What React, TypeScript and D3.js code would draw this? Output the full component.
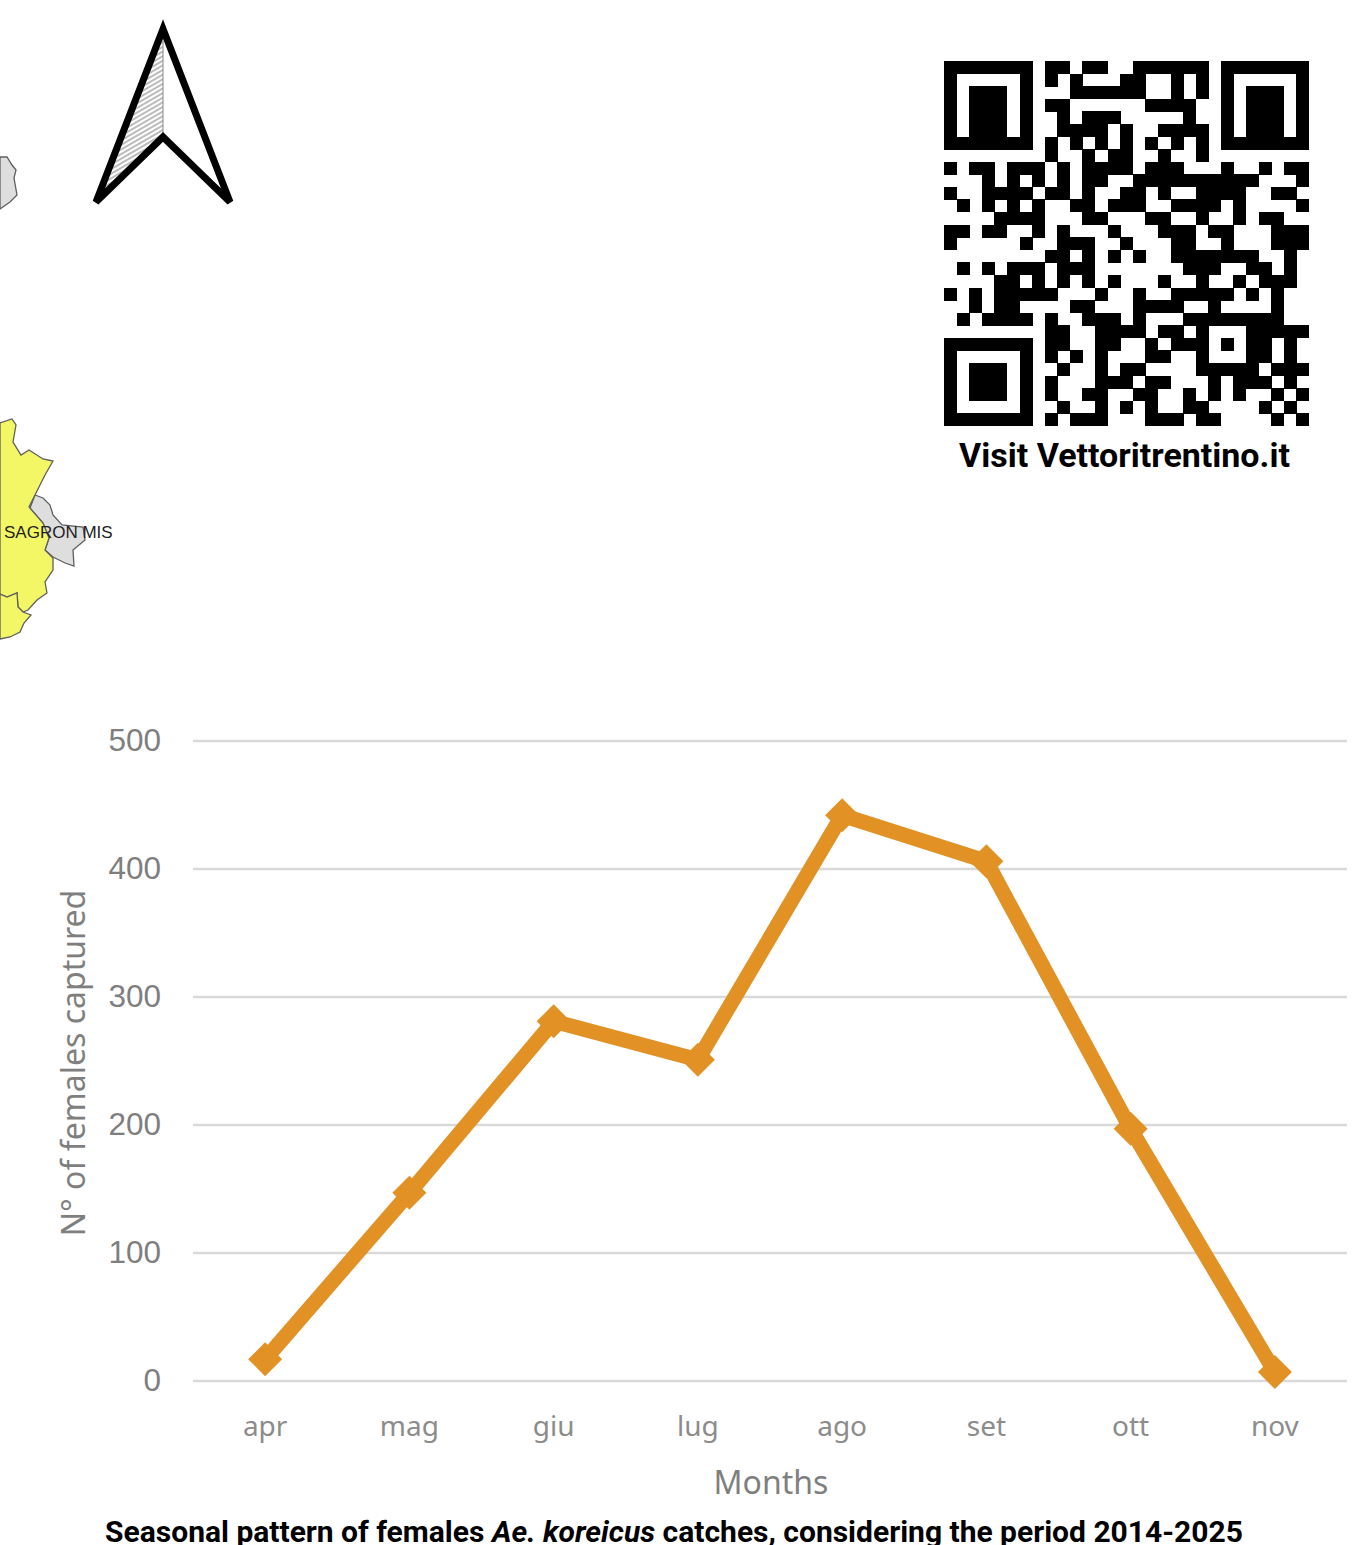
import React, { useEffect, useRef } from 'react'
import * as d3 from 'd3'

const months = ['apr', 'mag', 'giu', 'lug', 'ago', 'set', 'ott', 'nov']
const femalesCaptured = [17, 147, 281, 251, 442, 406, 197, 7]
const yTicks = [0, 100, 200, 300, 400, 500]

// QR modules, one string per row
const qrRows = [
  '11111110110110011111101111111',
  '10000010101000110010101000001',
  '10111010001111110010101011101',
  '10111010110000001111001011101',
  '10111010010111000001001011101',
  '10111010011110100111101011101',
  '11111110101010101010101111111',
  '00000000100101100100100000000',
  '10110111010111101110001001011',
  '00010101010110011111111110001',
  '10011110110100110100111100110',
  '01010101001101110011110100001',
  '00001111000110001100100101100',
  '11011001010001000111011000111',
  '10000010011100100011001000111',
  '00000000110101010011111110010',
  '01010111011100000001110011010',
  '00001101010101000100100101110',
  '10101111100010010011111010100',
  '00101100001100011110010000100',
  '01011110100111010001111111100',
  '00000000110011110110100011111',
  '11111110110011001011101011010',
  '10000010101010001100100011010',
  '10111010010010110000111110111',
  '10111010100011101100010111010',
  '10111010100110011001010100101',
  '10000010010010101001100001010',
  '11111110101110001110110000101'
]

// bits of the municipality map left in the corner
const mapGrey: [number, number][][] = [
  [[0, 157], [7, 157], [12, 165], [16, 170], [14, 178], [17, 195], [10, 202], [0, 209]],
  [[35, 495], [43, 498], [50, 505], [53, 515], [62, 525], [83, 527], [85, 540], [73, 550], [74, 566], [65, 563], [53, 557], [45, 550], [49, 538], [43, 523], [30, 508]]
]
const mapYellow: [number, number][][] = [
  [[0, 423], [12, 419], [16, 425], [13, 442], [21, 455], [29, 450], [43, 459], [53, 461], [45, 475], [35, 495], [29, 507], [43, 523], [49, 538], [45, 550], [53, 558], [53, 570], [45, 582], [47, 593], [37, 600], [28, 610], [23, 612], [18, 607], [17, 593], [7, 597], [0, 594]],
  [[0, 594], [7, 597], [17, 593], [18, 607], [23, 612], [31, 615], [24, 623], [20, 632], [10, 637], [0, 639]]
]
const arrowOutline: [number, number][] = [[163, 29], [96, 202], [163, 137], [230, 202]]
const arrowHatch: [number, number][] = [[163, 29], [96, 202], [163, 137]]

export default function App() {
  const svgRef = useRef<SVGSVGElement>(null)

  useEffect(() => {
    if (!svgRef.current) return
    const svg = d3.select(svgRef.current)
    svg.selectAll('*').remove()

    const polygon = d3.line().curve(d3.curveLinearClosed)

    // map fragments
    const map = svg.append('g').attr('stroke', '#5f5f5f').attr('stroke-width', 1.3)
    map.selectAll('path.grey').data(mapGrey).join('path')
      .attr('class', 'grey').attr('d', d => polygon(d)).attr('fill', '#dedede')
    map.selectAll('path.yellow').data(mapYellow).join('path')
      .attr('class', 'yellow').attr('d', d => polygon(d)).attr('fill', '#f3f766')
    svg.append('text')
      .attr('x', 4).attr('y', 538)
      .attr('font-family', 'Liberation Sans').attr('font-size', 17)
      .attr('fill', '#222')
      .text('SAGRON MIS')

    // north arrow
    const pattern = svg.append('defs').append('pattern')
      .attr('id', 'hatch')
      .attr('patternUnits', 'userSpaceOnUse')
      .attr('width', 4).attr('height', 4)
      .attr('patternTransform', 'rotate(-30)')
    pattern.append('line')
      .attr('x1', 0).attr('x2', 4).attr('y1', 2).attr('y2', 2)
      .attr('stroke', '#777').attr('stroke-width', 1)
    svg.append('path').attr('d', polygon(arrowHatch)).attr('fill', 'url(#hatch)')
      .attr('stroke', '#888').attr('stroke-width', 1)
    svg.append('path').attr('d', polygon(arrowOutline))
      .attr('fill', 'none').attr('stroke', '#000').attr('stroke-width', 7)
      .attr('stroke-linejoin', 'miter').attr('stroke-miterlimit', 4)

    // QR code
    const qrIdx = d3.range(qrRows.length)
    const qrX = d3.scaleBand<number>().domain(qrIdx).range([944, 1309])
    const qrY = d3.scaleBand<number>().domain(qrIdx).range([61, 426])
    const qrCells = qrRows.flatMap((row, r) =>
      row.split('').flatMap((c, col) => (c === '1' ? [{ r, col }] : []))
    )
    svg.append('g').attr('shape-rendering', 'crispEdges')
      .selectAll('rect').data(qrCells).join('rect')
      .attr('x', d => qrX(d.col)!)
      .attr('y', d => qrY(d.r)!)
      .attr('width', qrX.bandwidth() + 0.4)
      .attr('height', qrY.bandwidth() + 0.4)
      .attr('fill', '#000')
    svg.append('text')
      .attr('x', 1124.5).attr('y', 467)
      .attr('text-anchor', 'middle')
      .attr('font-family', 'Roboto').attr('font-weight', 700).attr('font-size', 34)
      .attr('fill', '#000')
      .text('Visit Vettoritrentino.it')

    // line chart
    const x = d3.scaleBand().domain(months).range([193, 1347])
    const y = d3.scaleLinear().domain([0, 500]).range([1381, 741])

    const yAxis = d3.axisLeft(y).tickValues(yTicks).tickSize(-1154).tickPadding(32).offset(0)
    const gy = svg.append('g').attr('transform', 'translate(193,0)').call(yAxis)
    gy.select('.domain').remove()
    gy.selectAll('line').attr('stroke', '#d9d9d9').attr('stroke-width', 2.6)
    gy.selectAll('text')
      .attr('font-family', 'Liberation Sans').attr('font-size', 31.5).attr('fill', '#7f7f7f')

    const xAxis = d3.axisBottom(x).tickSize(0).tickPadding(35).offset(0)
    const gx = svg.append('g').attr('transform', 'translate(0,1381)').call(xAxis)
    gx.select('.domain').remove()
    gx.selectAll('text')
      .attr('font-family', 'Noto Sans').attr('font-size', 28).attr('fill', '#8c8c8c')

    const cx = (m: string) => x(m)! + x.bandwidth() / 2
    const points = months.map((m, i) => [cx(m), y(femalesCaptured[i])] as [number, number])

    svg.append('path')
      .attr('d', d3.line()(points))
      .attr('fill', 'none')
      .attr('stroke', '#e29125')
      .attr('stroke-width', 15)
      .attr('stroke-linejoin', 'miter')

    const diamond = d3.symbol().type(d3.symbolSquare).size(576)
    svg.append('g').selectAll('path').data(points).join('path')
      .attr('d', diamond())
      .attr('transform', d => `translate(${d[0]},${d[1]}) rotate(45)`)
      .attr('fill', '#e29125')

    svg.append('text')
      .attr('transform', 'translate(85,1063) rotate(-90)')
      .attr('text-anchor', 'middle')
      .attr('font-family', 'Noto Sans').attr('font-size', 32).attr('fill', '#7f7f7f')
      .text('N° of females captured')
    svg.append('text')
      .attr('x', 771).attr('y', 1494)
      .attr('text-anchor', 'middle')
      .attr('font-family', 'Noto Sans').attr('font-size', 32).attr('fill', '#7f7f7f')
      .text('Months')

    // caption, species name in italics
    const caption = svg.append('text')
      .attr('x', 674).attr('y', 1542)
      .attr('text-anchor', 'middle')
      .attr('font-family', 'Roboto').attr('font-weight', 700).attr('font-size', 30)
      .attr('fill', '#000')
    caption.append('tspan').text('Seasonal pattern of females ')
    caption.append('tspan').attr('font-style', 'italic').text('Ae. koreicus')
    caption.append('tspan').text(' catches, considering the period 2014-2025')
  }, [])

  return (
    <svg
      ref={svgRef}
      width={1354}
      height={1545}
      style={{ position: 'absolute', left: 0, top: 0, display: 'block', background: '#fff' }}
    />
  )
}
